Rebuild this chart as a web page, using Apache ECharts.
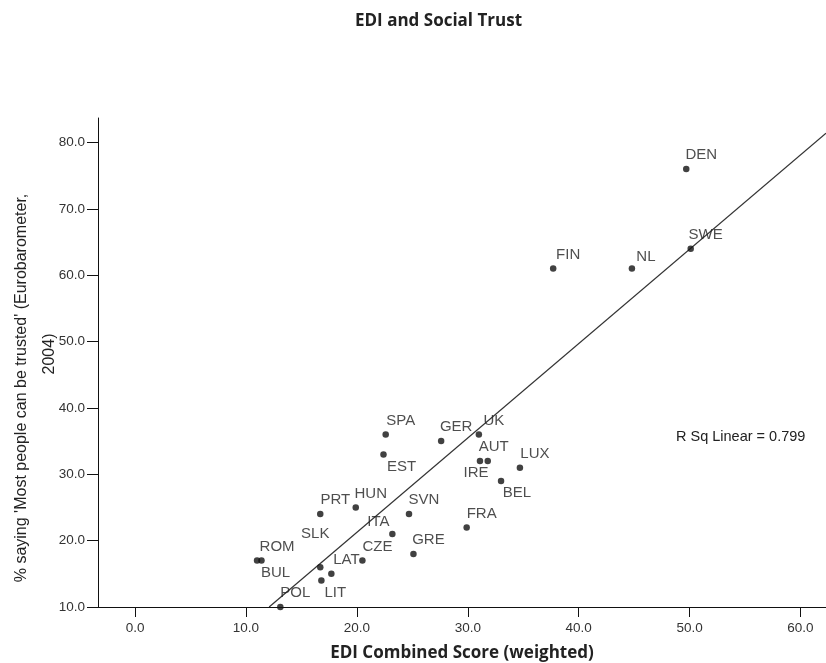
<!DOCTYPE html>
<html>
<head>
<meta charset="utf-8">
<script src="https://cdn.jsdelivr.net/npm/echarts@6/dist/echarts.min.js"></script>
<style>
html,body{margin:0;padding:0;background:#fff;}
#chart{width:826px;height:663px;}
</style>
</head>
<body>
<div id="chart"></div>
<script>
// ---- Data ----
const countries = ['DEN','SWE','NL','FIN','UK','SPA','GER','EST','AUT','IRE','LUX','BEL','HUN','PRT','SVN','FRA','ITA','GRE','CZE','ROM','BUL','SLK','LAT','LIT','POL'];
const ediScore  = [49.7, 50.1, 44.8, 37.7, 31.0, 22.6, 27.6, 22.4, 31.8, 31.1, 34.7, 33.0, 19.9, 16.7, 24.7, 29.9, 23.2, 25.1, 20.5, 11.0, 11.4, 16.7, 17.7, 16.8, 13.1];
const trustPct  = [76, 64, 61, 61, 36, 36, 35, 33, 32, 32, 31, 29, 25, 24, 24, 22, 21, 18, 17, 17, 17, 16, 15, 14, 10];
const xTicks = [0, 10, 20, 30, 40, 50, 60];
const yTicks = [10, 20, 30, 40, 50, 60, 70, 80];
const fitSlope = 1.422;
const fitIntercept = -7.19;
const rSquared = 0.799;

// ---- Styling (label placement per point) ----
const defaultOffset = [15, -14];
const labelOffsets = {
  EST: [18, 12], AUT: [6, -14], IRE: [-4, 12], BEL: [16, 12], ITA: [-14, -12],
  BUL: [14, 12], ROM: [20, -14], SLK: [-5, -33], LIT: [14, 12], NL: [14, -12]
};

const X_MIN = -3.34, X_MAX = 62.3, Y_MIN = 10, Y_MAX = 83.7;

const points = countries.map((c, i) => ({
  name: c,
  value: [ediScore[i], trustPct[i]],
  label: { offset: labelOffsets[c] || defaultOffset }
}));

// regression line endpoints derived from the fitted slope/intercept, clipped by the grid
const fitX0 = (Y_MIN - fitIntercept) / fitSlope;
const fitLine = [[fitX0, fitSlope * fitX0 + fitIntercept], [X_MAX, fitSlope * X_MAX + fitIntercept]];

const axisFont = 'Liberation Sans, Arial, sans-serif';
const chart = echarts.init(document.getElementById('chart'), null, {renderer: 'canvas'});
chart.setOption({
  animation: false,
  backgroundColor: '#fff',
  title: {
    text: 'EDI and Social Trust',
    left: 350, top: 8,
    textStyle: {fontFamily: 'Open Sans', fontWeight: 'bold', fontSize: 17, color: '#222'}
  },
  grid: {left: 98, top: 118, right: 0, bottom: 56, outerBoundsMode: 'none', containLabel: false},
  xAxis: {
    type: 'value', min: X_MIN, max: X_MAX,
    name: 'EDI Combined Score (weighted)', nameLocation: 'middle', nameGap: 38,
    nameTextStyle: {fontFamily: 'Open Sans', fontWeight: 'bold', fontSize: 17, color: '#222'},
    axisLine: {show: true, onZero: false, lineStyle: {color: '#111', width: 1}},
    axisTick: {show: true, length: 10, customValues: xTicks, lineStyle: {color: '#111'}},
    axisLabel: {customValues: xTicks, margin: 14, formatter: v => v.toFixed(1),
      fontFamily: axisFont, fontSize: 13.5, color: '#333'},
    splitLine: {show: false}
  },
  yAxis: {
    type: 'value', min: Y_MIN, max: Y_MAX,
    axisLine: {show: true, onZero: false, lineStyle: {color: '#111', width: 1}},
    axisTick: {show: true, length: 11, customValues: yTicks, lineStyle: {color: '#111'}},
    axisLabel: {customValues: yTicks, margin: 13, formatter: v => v.toFixed(1),
      fontFamily: axisFont, fontSize: 13.5, color: '#333'},
    splitLine: {show: false}
  },
  graphic: [
    {type: 'text', x: 22, y: 388, rotation: Math.PI / 2,
      style: {text: "% saying 'Most people can be trusted' (Eurobarometer,", font: '16px "Liberation Sans"', fill: '#222', align: 'center', verticalAlign: 'middle'}},
    {type: 'text', x: 50, y: 354, rotation: Math.PI / 2,
      style: {text: '2004)', font: '16px "Liberation Sans"', fill: '#222', align: 'center', verticalAlign: 'middle'}},
    {type: 'text', x: 676, y: 437,
      style: {text: 'R Sq Linear = ' + rSquared.toFixed(3), font: '14.5px "Liberation Sans"', fill: '#222', align: 'left', verticalAlign: 'middle'}}
  ],
  series: [
    {
      type: 'line', data: fitLine, showSymbol: false, symbol: 'none', clip: true,
      lineStyle: {color: '#333', width: 1.2}, silent: true, z: 2
    },
    {
      type: 'scatter', data: points, symbolSize: 6.5, clip: false,
      itemStyle: {color: '#111'},
      label: {show: true, position: 'inside', formatter: p => p.name,
        align: 'center', verticalAlign: 'middle',
        fontFamily: axisFont, fontSize: 15, color: '#222'},
      z: 3
    }
  ]
});
</script>
</body>
</html>
